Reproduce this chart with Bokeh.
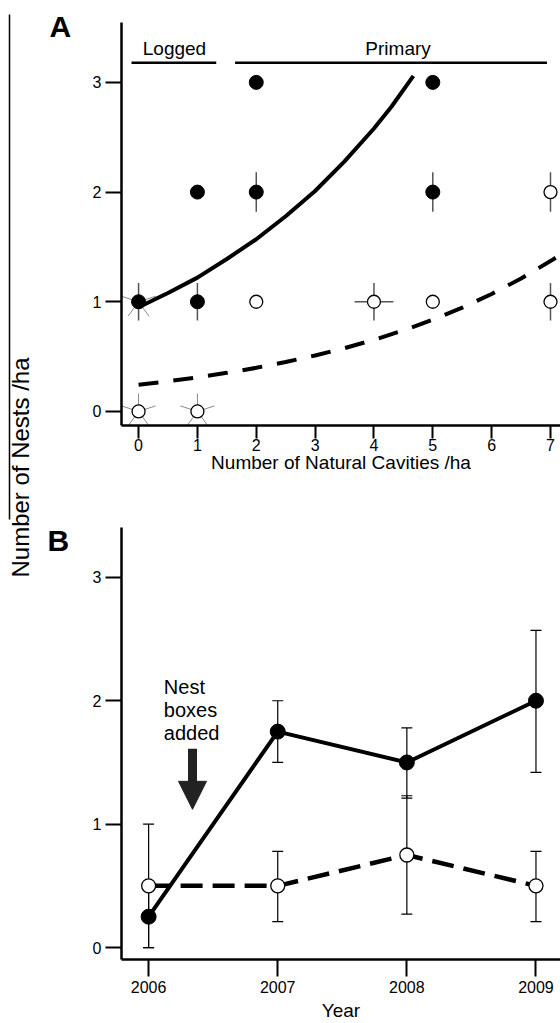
import math
from bokeh.plotting import figure
from bokeh.models import (Range1d, FixedTicker, ColumnDataSource, Whisker, TeeHead,
                          Arrow, NormalHead, Label)
from bokeh.layouts import row, column
from bokeh.core.properties import value
from bokeh.embed import file_html
from bokeh.resources import INLINE

FONT = "Liberation Sans"

# ---------------- Panel A data ----------------
a_filled_x = [0, 1, 1, 2, 2, 5, 5]
a_filled_y = [1, 2, 1, 3, 2, 3, 2]
a_open_x = [2, 4, 5, 7, 7, 0, 1]
a_open_y = [1, 1, 1, 1, 2, 0, 0]
# vertical error bars
a_verr_x = [0, 1, 2, 5, 4, 7, 7]
a_verr_y = [1, 1, 2, 2, 1, 1, 2]
a_verr = [0.17, 0.17, 0.18, 0.18, 0.17, 0.17, 0.18]
# horizontal error bar
a_herr_x = [4]
a_herr_y = [1]
a_herr = [0.33]
# overlapping (sunflower) points
a_star_x = [0, 1, 0]
a_star_y = [0, 0, 1]
# fitted curves
solid_x = [0, 0.5, 1, 1.5, 2, 2.5, 3, 3.5, 4, 4.3, 4.67]
solid_y = [0.95, 1.08, 1.22, 1.39, 1.57, 1.78, 2.01, 2.28, 2.58, 2.78, 3.06]
dash_x = [0, 0.5, 1, 1.5, 2, 2.5, 3, 3.5, 4, 4.5, 5, 5.5, 6, 6.5, 7, 7.2]
dash_y = [0.243, 0.275, 0.311, 0.352, 0.398, 0.451, 0.510, 0.577, 0.653,
          0.739, 0.836, 0.946, 1.071, 1.212, 1.371, 1.44]
a_xticks = [0, 1, 2, 3, 4, 5, 6, 7]
a_yticks = [0, 1, 2, 3]
group_names = ["Logged", "Primary"]
group_start = [-0.12, 1.64]
group_end = [1.32, 6.94]
group_label_x = [0.61, 4.41]

# ---------------- Panel B data ----------------
years = [2006, 2007, 2008, 2009]
b_filled = [0.25, 1.75, 1.5, 2.0]
b_filled_lo = [0.0, 1.5, 1.21, 1.42]
b_filled_hi = [0.5, 2.0, 1.78, 2.57]
b_open = [0.5, 0.5, 0.75, 0.5]
b_open_lo = [0.0, 0.21, 0.27, 0.21]
b_open_hi = [1.0, 0.78, 1.23, 0.78]
b_yticks = [0, 1, 2, 3]
note_lines = ["Nest", "boxes", "added"]


def style(p, xticks, yticks, xtick_out, ytick_out):
    p.xgrid.visible = False
    p.ygrid.visible = False
    p.outline_line_color = None
    p.background_fill_color = "white"
    p.border_fill_color = "white"
    p.xaxis.ticker = FixedTicker(ticks=xticks)
    p.yaxis.ticker = FixedTicker(ticks=yticks)
    for ax in p.axis:
        ax.axis_line_width = 2.5
        ax.axis_line_color = "black"
        ax.major_tick_line_width = 2
        ax.major_tick_line_color = "black"
        ax.major_tick_in = 0
        ax.minor_tick_line_color = None
        ax.major_label_text_font = FONT
        ax.major_label_text_font_size = "16px"
        ax.major_label_text_color = "black"
        ax.axis_label_text_font = FONT
        ax.axis_label_text_font_style = "normal"
        ax.axis_label_text_font_size = "19px"
        ax.axis_label_text_color = "black"
    p.xaxis.major_tick_out = xtick_out
    p.yaxis.major_tick_out = ytick_out
    p.yaxis.major_label_standoff = 4


# ---------------- left strip (shared y title, panel letters) ----------------
H = 1023
lf = figure(width=75, height=H, x_range=Range1d(0, 75), y_range=Range1d(H, 0),
            output_backend="svg", toolbar_location=None,
            x_axis_location=None, y_axis_location=None, min_border=0)
lf.outline_line_color = None
lf.xgrid.visible = False
lf.ygrid.visible = False
lf.segment(x0=[9], y0=[14], x1=[9], y1=[519], line_color="black", line_width=1.5)
lf.add_layout(Label(x=20, y=467, text="Number of Nests /ha", angle=math.pi / 2,
                    text_font=FONT, text_font_size="24px", text_align="center",
                    text_baseline="middle", text_color="black"))
lf.add_layout(Label(x=49, y=26, text="A", text_font=FONT, text_font_size="30px",
                    text_font_style="bold", text_baseline="middle", text_color="black"))
lf.add_layout(Label(x=47, y=540, text="B", text_font=FONT, text_font_size="30px",
                    text_font_style="bold", text_baseline="middle", text_color="black"))

# ---------------- Panel A ----------------
pa = figure(width=485, height=490, x_range=Range1d(-0.29, 7.17), y_range=Range1d(-0.128, 3.546),
            output_backend="svg", toolbar_location=None,
            min_border_left=45, min_border_right=0, min_border_top=22, min_border_bottom=65)
style(pa, a_xticks, a_yticks, 13, 16)
pa.xaxis.axis_label = "Number of Natural Cavities /ha"
pa.xaxis.major_label_standoff = 0
pa.xaxis.axis_label_standoff = -2

# group header lines and labels
pa.segment(x0=group_start, y0=[3.178] * 2, x1=group_end, y1=[3.178] * 2,
           line_color="black", line_width=2.5)
pa.text(x=group_label_x, y=[3.305] * 2, text=group_names,
        text_font=value(FONT), text_font_size=value("19px"), text_align="center",
        text_baseline="middle", text_color="black")

# sunflower rays
ray_angles = [90, 162, 18, 234, 306]
rx, ry, ra = [], [], []
for sx, sy in zip(a_star_x, a_star_y):
    for ang in ray_angles:
        rx.append(sx)
        ry.append(sy)
        ra.append(ang)
pa.ray(x=rx, y=ry, length=18, angle=ra, angle_units="deg", length_units="screen",
       line_color="#8a8a8a", line_width=1)

# error bars
pa.segment(x0=a_verr_x, y0=[y - e for y, e in zip(a_verr_y, a_verr)],
           x1=a_verr_x, y1=[y + e for y, e in zip(a_verr_y, a_verr)],
           line_color="#555555", line_width=1.5)
pa.segment(x0=[x - e for x, e in zip(a_herr_x, a_herr)], y0=a_herr_y,
           x1=[x + e for x, e in zip(a_herr_x, a_herr)], y1=a_herr_y,
           line_color="#555555", line_width=1.5)

# curves
pa.line(solid_x, solid_y, line_color="black", line_width=4)
pa.line(dash_x, dash_y, line_color="black", line_width=4, line_dash="20 15")

# points
pa.scatter(a_open_x, a_open_y, size=13, marker="circle", fill_color="white",
           line_color="black", line_width=1.3)
pa.scatter(a_filled_x, a_filled_y, size=14, marker="circle", fill_color="black",
           line_color="black")

# ---------------- Panel B ----------------
pb = figure(width=485, height=533, x_range=Range1d(2005.79, 2009.19), y_range=Range1d(-0.097, 3.404),
            output_backend="svg", toolbar_location=None,
            min_border_left=46, min_border_right=0, min_border_top=37, min_border_bottom=64)
style(pb, years, b_yticks, 17, 16)
pb.xaxis.axis_label = "Year"
pb.xaxis.major_label_standoff = 4
pb.xaxis.axis_label_standoff = 4

for lo, hi in ((b_open_lo, b_open_hi), (b_filled_lo, b_filled_hi)):
    src = ColumnDataSource(dict(base=years, lower=lo, upper=hi))
    pb.add_layout(Whisker(source=src, base="base", lower="lower", upper="upper",
                          dimension="height", line_color="black", line_width=1.2,
                          upper_head=TeeHead(size=11, line_width=1.2, line_color="black"),
                          lower_head=TeeHead(size=11, line_width=1.2, line_color="black")))

pb.line(years, b_open, line_color="black", line_width=4.5, line_dash="22 10")
pb.line(years, b_filled, line_color="black", line_width=4)
pb.scatter(years, b_open, size=14, marker="circle", fill_color="white",
           line_color="black", line_width=1.3)
pb.scatter(years, b_filled, size=15, marker="circle", fill_color="black",
           line_color="black")

# annotation: nest boxes added
for i, t in enumerate(note_lines):
    pb.add_layout(Label(x=2006.118, y=2.115 - i * 0.19, text=t, text_font=FONT,
                        text_font_size="20px", text_baseline="middle", text_color="black"))
pb.add_layout(Arrow(x_start=2006.34, y_start=1.61, x_end=2006.34, y_end=1.31, end=None,
                    line_color="#222222", line_width=9))
pb.add_layout(Arrow(x_start=2006.34, y_start=1.40, x_end=2006.34, y_end=1.12, line_alpha=0,
                    end=NormalHead(size=28, fill_color="#222222", line_color="#222222")))

layout = row(lf, column(pa, pb, spacing=0), spacing=0)
open("out.html", "w").write(file_html(layout, INLINE))
